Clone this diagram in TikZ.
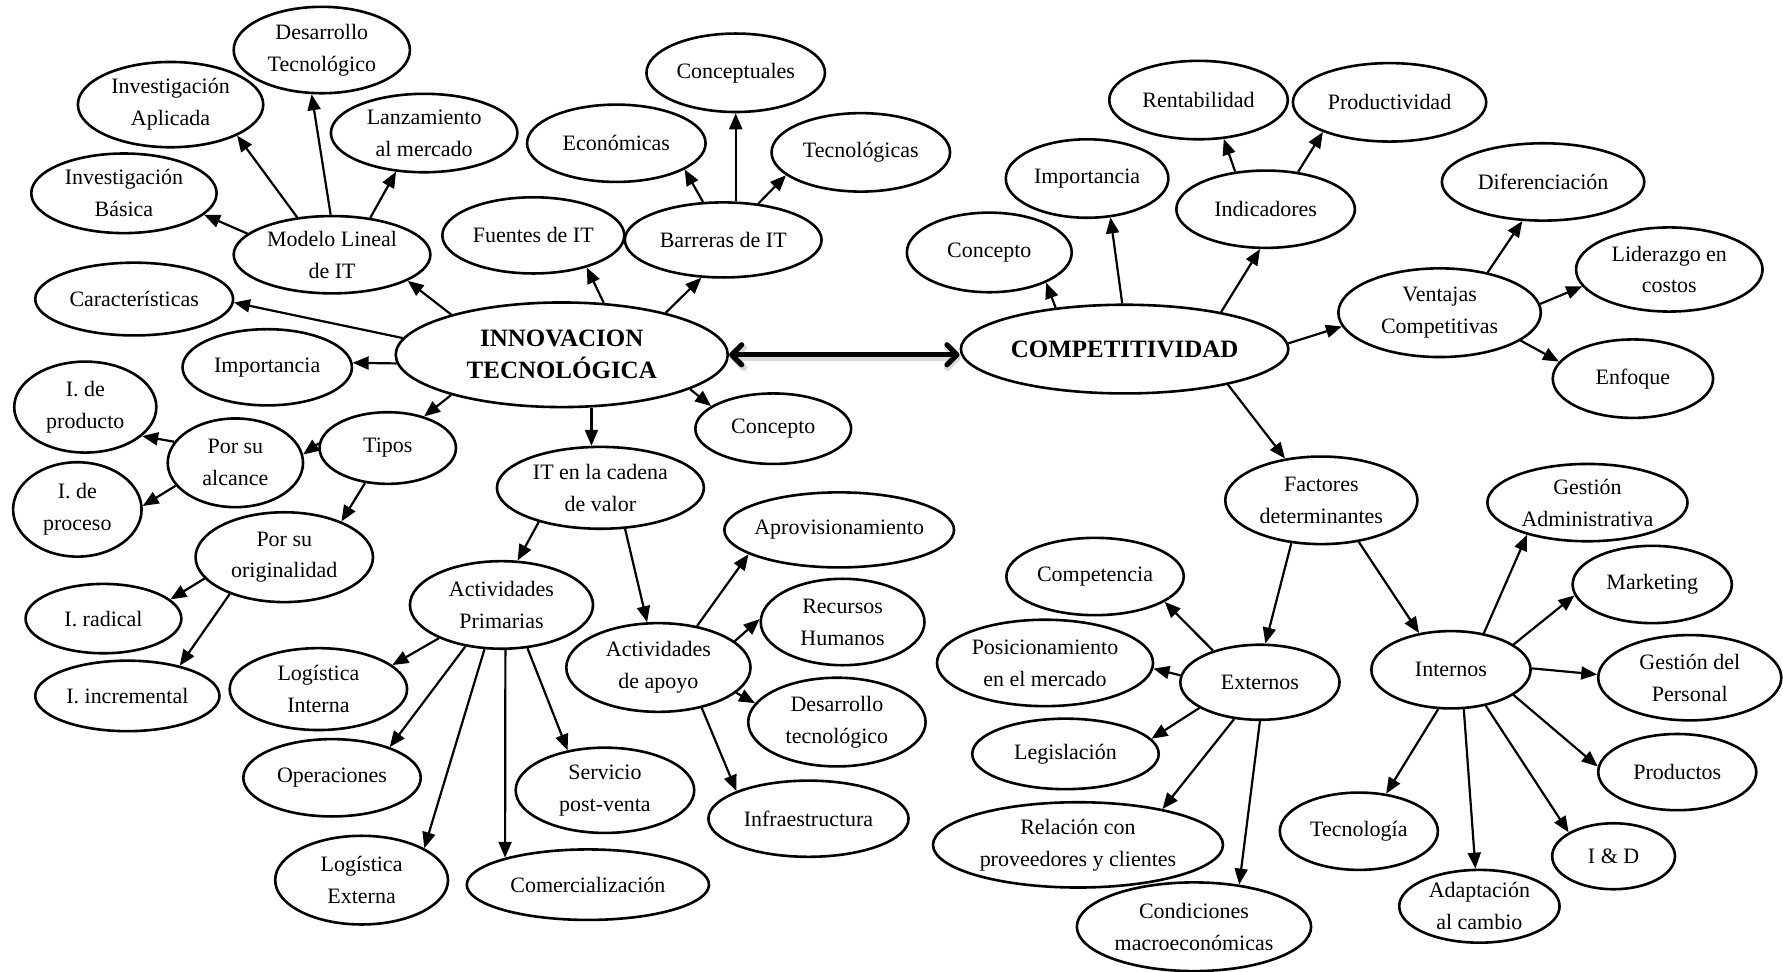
\documentclass[tikz,border=0pt]{standalone}
\usepackage{fontspec}
\setmainfont{Liberation Serif}
\usetikzlibrary{shapes.geometric, arrows.meta}

\tikzset{
	bub/.style 2 args={draw, ellipse, line width=1.3pt, inner xsep=-25pt, inner ysep=-12pt,
		align=center, font=\fontsize{11}{16}\selectfont,
		minimum width=#1*0.02cm, minimum height=#2*0.02cm},
	hub/.style 2 args={bub={#1}{#2}, font=\fontsize{12.5}{16}\selectfont\bfseries},
	arr/.style={line width=1.1pt, -{Triangle[length=8pt,width=6.5pt]}},
	link/.style={line width=2.6pt, {Straight Barb[length=5pt,width=10pt,round]}-{Straight Barb[length=5pt,width=10pt,round]}},
}

\begin{document}
\begin{tikzpicture}[x=0.02cm, y=-0.02cm]
	\useasboundingbox (0,0) rectangle (1568,854);

	% innovacion tecnologica
	\begin{scope}
		\node[hub={292}{92}] (innov) at (494,312) {INNOVACION\\TECNOLÓGICA};
		\node[bub={173}{68}] (modelo) at (292,224) {Modelo Lineal\\de IT};
		\node[bub={155}{76}] (desTec) at (283,44) {Desarrollo\\Tecnológico};
		\node[bub={163}{75}] (invApl) at (150,92) {Investigación\\Aplicada};
		\node[bub={164}{69}] (lanz) at (373,117) {Lanzamiento\\al mercado};
		\node[bub={163}{70}] (invBas) at (109,170) {Investigación\\Básica};
		\node[bub={174}{64}] (caract) at (118,263) {Características};
		\node[bub={160}{67}] (fuentes) at (469,207) {Fuentes de IT};
		\node[bub={173}{66}] (barreras) at (636,211) {Barreras de IT};
		\node[bub={157}{69}] (concep) at (647,64) {Conceptuales};
		\node[bub={157}{68}] (econ) at (542,126) {Económicas};
		\node[bub={157}{69}] (tecno) at (757,134) {Tecnológicas};
		\node[bub={149}{67}] (imp) at (235,323) {Importancia};
		\node[bub={137}{62}] (concL) at (680,377) {Concepto};
		\node[bub={120}{63}] (tipos) at (341,394) {Tipos};
		\node[bub={119}{78}] (alcance) at (207,407) {Por su\\alcance};
		\node[bub={125}{80}] (producto) at (75,358) {I. de\\producto};
		\node[bub={113}{83}] (proceso) at (68,448) {I. de\\proceso};
		\node[bub={156}{79}] (orig) at (250,490) {Por su\\originalidad};
		\node[bub={137}{61}] (radical) at (91,544) {I. radical};
		\node[bub={162}{62}] (incr) at (112,612) {I. incremental};
		\node[bub={182}{72}] (itcad) at (528,429) {IT en la cadena\\de valor};
		\node[bub={161}{77}] (actprim) at (441,532) {Actividades\\Primarias};
		\node[bub={156}{72}] (logint) at (280,606) {Logística\\Interna};
		\node[bub={156}{68}] (oper) at (292,684) {Operaciones};
		\node[bub={152}{78}] (logext) at (318,774) {Logística\\Externa};
		\node[bub={213}{62}] (comerc) at (517,778) {Comercialización};
		\node[bub={157}{75}] (serv) at (532,695) {Servicio\\post-venta};
		\node[bub={162}{78}] (actapoyo) at (579,587) {Actividades\\de apoyo};
		\node[bub={202}{66}] (aprov) at (738,466) {Aprovisionamiento};
		\node[bub={144}{76}] (rrhh) at (741,547) {Recursos\\Humanos};
		\node[bub={156}{78}] (destec2) at (736,635) {Desarrollo\\tecnológico};
		\node[bub={176}{67}] (infra) at (711,720) {Infraestructura};
	\end{scope}

	% competitividad
	\begin{scope}
		\node[hub={288}{78}] (comp) at (989,307) {COMPETITIVIDAD};
		\node[bub={145}{70}] (concR) at (870,222) {Concepto};
		\node[bub={143}{69}] (impR) at (956,157) {Importancia};
		\node[bub={157}{68}] (ind) at (1113,184) {Indicadores};
		\node[bub={157}{69}] (rent) at (1054,88) {Rentabilidad};
		\node[bub={170}{69}] (prod) at (1222,90) {Productividad};
		\node[bub={178}{78}] (vent) at (1266,275) {Ventajas\\Competitivas};
		\node[bub={178}{68}] (dif) at (1357,160) {Diferenciación};
		\node[bub={164}{74}] (lid) at (1468,237) {Liderazgo en\\costos};
		\node[bub={141}{69}] (enf) at (1436,333) {Enfoque};
		\node[bub={169}{77}] (fact) at (1162,440) {Factores\\determinantes};
		\node[bub={140}{66}] (ext) at (1108,600) {Externos};
		\node[bub={140}{68}] (int) at (1276,589) {Internos};
		\node[bub={156}{68}] (compe) at (963,507) {Competencia};
		\node[bub={190}{76}] (pos) at (919,583) {Posicionamiento\\en el mercado};
		\node[bub={164}{62}] (leg) at (937,663) {Legislación};
		\node[bub={255}{75}] (relac) at (948,743) {Relación con\\proveedores y clientes};
		\node[bub={206}{78}] (cond) at (1050,815) {Condiciones\\macroeconómicas};
		\node[bub={176}{68}] (gadm) at (1396,442) {Gestión\\Administrativa};
		\node[bub={140}{68}] (mkt) at (1453,514) {Marketing};
		\node[bub={161}{75}] (gper) at (1486,596) {Gestión del\\Personal};
		\node[bub={139}{67}] (prods) at (1475,679) {Productos};
		\node[bub={108}{58}] (iyd) at (1419,753) {I \& D};
		\node[bub={141}{64}] (adap) at (1301,797) {Adaptación\\al cambio};
		\node[bub={139}{68}] (tecn) at (1195,731) {Tecnología};
	\end{scope}

	\begin{scope}
		\foreach \a/\b in {modelo.92/desTec.-103, modelo.133/invApl.-25, modelo.44/lanz.-126,
			modelo.166/invBas.-15, innov.160/modelo.-19, innov.174/caract.-2,
			innov.51/fuentes.-31, innov.22/barreras.-120, barreras.118/econ.-21,
			barreras.46/tecno.197, innov.183/imp.3, innov.200/tipos.41, innov.-15/concL.160,
			tipos.176/alcance.7, alcance.161/producto.-27, alcance.201/proceso.3,
			tipos.-123/orig.32, orig.195/radical.16, orig.214/incr.30,
			itcad.209/actprim.70, itcad.-59/actapoyo.104, actprim.208/logint.18,
			actprim.229/oper.28, actprim.-111/logext.27, actprim.-85/comerc.162,
			actprim.-59/serv.133, actapoyo.47/aprov.195, actapoyo.19/rrhh.178,
			actapoyo.-18/destec2.167, actapoyo.-43/infra.159}
		{
			\draw[arr] (\a) -- (\b);
		}
		\draw[arr] (barreras.north -| concep.south) -- (concep.south);
		\draw[arr] (innov.south -| itcad.102) -- (itcad.102);
	\end{scope}

	\begin{scope}
		\foreach \a/\b in {comp.149/concR.-28, comp.93/impR.-59, comp.21/ind.-98,
			ind.129/rent.-57, ind.49/prod.204, comp.2/vent.188, vent.40/dif.-118,
			vent.5/lid.191, vent.-19/enf.167, comp.-19/fact.131, fact.-125/ext.82,
			fact.-48/int.131, ext.146/compe.-20, ext.175/pos.-3, ext.203/leg.10,
			ext.-125/relac.23, ext.-90/cond.43, int.48/gadm.208, int.22/mkt.188,
			int.1/gper.178, int.-22/prods.176, int.-46/iyd.152, int.-72/adap.96,
			int.-108/tecn.54}
		{
			\draw[arr] (\a) -- (\b);
		}
	\end{scope}

	\draw[link, black!15, line width=3.4pt, transform canvas={shift={(0.6pt,-1.4pt)}}]
		(innov.east) -- (innov.east -| comp.west);
	\draw[link] (innov.east) -- (innov.east -| comp.west);
\end{tikzpicture}
\end{document}
